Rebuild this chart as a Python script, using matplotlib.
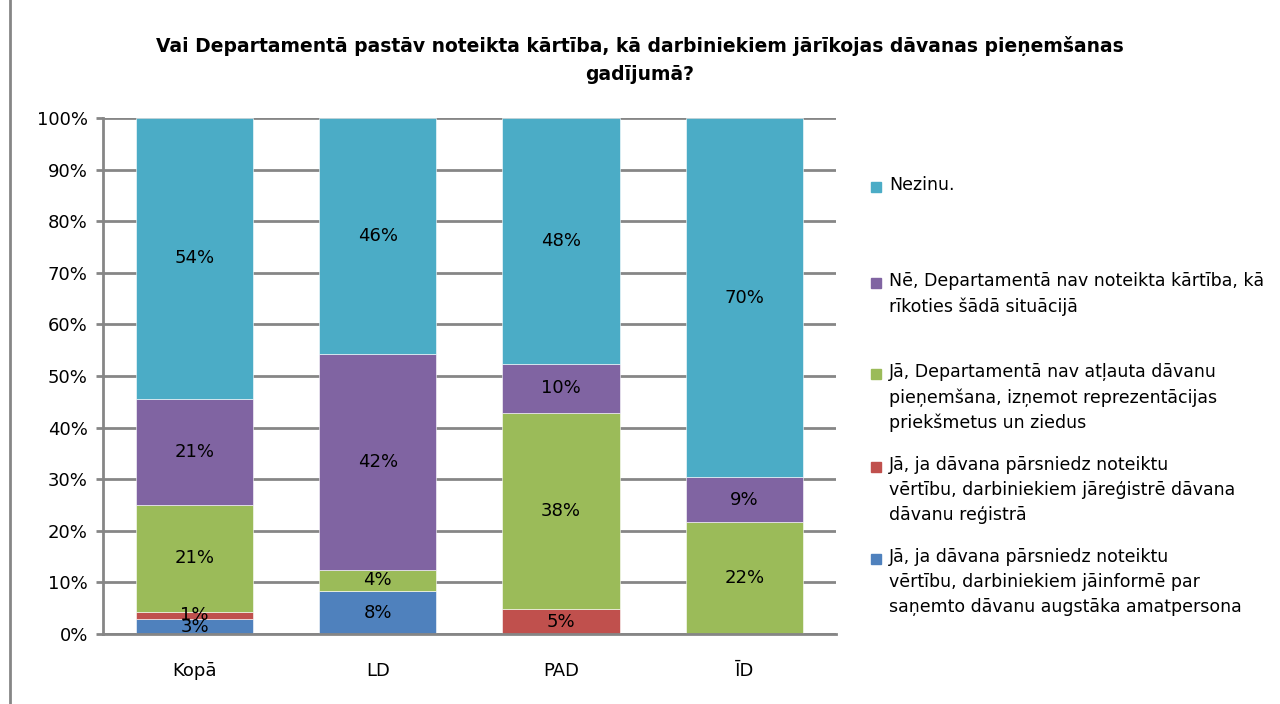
import matplotlib.pyplot as plt
from matplotlib.lines import Line2D
from matplotlib.patches import Rectangle
import numpy as np

plt.rcParams['font.family'] = ['DejaVu Sans']

categories = ["Kopā", "LD", "PAD", "ĪD"]

# share of answers per department, % (bottom to top of each column)
ja_informe = [2.9, 8.3, 0.0, 0.0]
ja_registre = [1.4, 0.0, 4.8, 0.0]
ja_nav_atlauta = [20.7, 4.2, 38.1, 21.7]
ne = [20.6, 41.7, 9.5, 8.7]
nezinu = [54.4, 45.8, 47.6, 69.6]

series = [ja_informe, ja_registre, ja_nav_atlauta, ne, nezinu]
colors = ["#4F81BD", "#C0504D", "#9BBB59", "#8064A2", "#4BACC6"]
legend_labels = [
    "Jā, ja dāvana pārsniedz noteiktu\nvērtību, darbiniekiem jāinformē par\nsaņemto dāvanu augstāka amatpersona",
    "Jā, ja dāvana pārsniedz noteiktu\nvērtību, darbiniekiem jāreģistrē dāvana\ndāvanu reģistrā",
    "Jā, Departamentā nav atļauta dāvanu\npieņemšana, izņemot reprezentācijas\npriekšmetus un ziedus",
    "Nē, Departamentā nav noteikta kārtība, kā\nrīkoties šādā situācijā",
    "Nezinu.",
]

title = ("Vai Departamentā pastāv noteikta kārtība, kā darbiniekiem jārīkojas dāvanas pieņemšanas\n"
         "gadījumā?")

fig = plt.figure(figsize=(12.8, 7.04), dpi=100)
ax = fig.add_axes([0.0805, 0.0994, 0.5725, 0.7330])

x = np.arange(len(categories))
bottom = np.zeros(len(categories))
for vals, col in zip(series, colors):
    vals = np.array(vals)
    ax.bar(x, vals, width=0.64, bottom=bottom, color=col, edgecolor="white",
           linewidth=0.4, zorder=3)
    for xi, b, v in zip(x, bottom, vals):
        if v > 0:
            ax.text(xi, b + v / 2, f"{v:.0f}%", ha="center", va="center",
                    fontsize=13, color="black", zorder=4)
    bottom += vals

ax.set_xlim(-0.5, len(categories) - 0.5)
ax.set_ylim(0, 100)
ax.set_yticks(np.arange(0, 101, 10))
ax.set_yticklabels([f"{t}%" for t in range(0, 101, 10)], fontsize=13)
ax.set_xticks(x)
ax.set_xticklabels(categories, fontsize=13)
ax.tick_params(axis="y", length=5, width=2, color="#868686", pad=6)
ax.tick_params(axis="x", length=0, pad=20)
ax.yaxis.grid(True, color="#868686", linewidth=2, zorder=0)
for side in ["top", "right"]:
    ax.spines[side].set_visible(False)
for side in ["left", "bottom"]:
    ax.spines[side].set_color("#868686")
    ax.spines[side].set_linewidth(2)
    ax.spines[side].set_zorder(5)

fig.text(0.5, 0.915, title, ha="center", va="center", fontsize=13.5,
         fontweight="bold", linespacing=1.6)

# legend drawn entry by entry, top entry first
W, H = 1280, 704
first_line_y = [187, 283, 374, 467, 559]
for lab, col, ly in zip(legend_labels[::-1], colors[::-1], first_line_y):
    fig.patches.append(Rectangle((871 / W, 1 - (ly + 5) / H), 10 / W, 10 / H,
                                 transform=fig.transFigure, color=col))
    fig.text(889 / W, 1 - (ly - 11) / H, lab, ha="left", va="top",
             fontsize=12.5, linespacing=1.5)

# chart area border on the left
fig.add_artist(Line2D([10 / W, 10 / W], [0, 1], transform=fig.transFigure,
                      color="#868686", linewidth=2))

fig.savefig("out.png", dpi=100)
